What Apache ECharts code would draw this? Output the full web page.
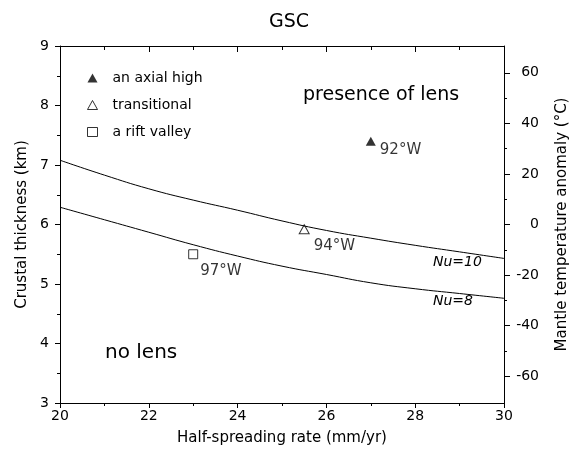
<!DOCTYPE html>
<html>
<head>
<meta charset="utf-8">
<script src="https://cdn.jsdelivr.net/npm/echarts@6/dist/echarts.min.js"></script>
<style>
  html, body { margin: 0; padding: 0; background: #fff; }
  #chart { width: 578px; height: 458px; }
</style>
</head>
<body>
<div id="chart"></div>
<script>
// half-spreading rate (mm/yr)
var rate = [20, 21, 22, 23, 24, 25, 26, 27, 28, 29, 30];
// model curves, crustal thickness (km)
var nu10 = [7.08, 6.83, 6.60, 6.41, 6.24, 6.06, 5.90, 5.77, 5.65, 5.54, 5.43];
var nu8 = [6.29, 6.08, 5.87, 5.66, 5.47, 5.30, 5.16, 5.02, 4.92, 4.84, 4.76];
// observations
var axialHigh = [[27, 7.4]];
var transitional = [[25.5, 5.92]];
var riftValley = [[23, 5.5]];
// right axis ticks
var tempLabels = [-60, -40, -20, 0, 20, 40, 60];
var tempMinor = [-50, -30, -10, 10, 30, 50];

function pairs(xs, ys) {
  return xs.map(function (x, i) { return [x, ys[i]]; });
}

var font = 'DejaVu Sans, sans-serif';
var chart = echarts.init(document.getElementById('chart'));

chart.setOption({
  animation: false,
  title: {
    text: 'GSC', left: 'center', top: 8,
    textStyle: { fontFamily: font, fontSize: 19, fontWeight: 'normal', color: '#000' }
  },
  grid: { left: 60, right: 73, top: 46, bottom: 55 },
  legend: {
    orient: 'vertical', left: 82, top: 66,
    itemWidth: 10, itemHeight: 9, itemGap: 13,
    data: ['an axial high', 'transitional', 'a rift valley'],
    itemStyle: { borderWidth: 1 },
    textStyle: { fontFamily: font, fontSize: 14, color: '#000', padding: [0, 0, 0, 10] }
  },
  xAxis: [{
    type: 'value', min: 20, max: 30, interval: 2,
    name: 'Half-spreading rate (mm/yr)', nameLocation: 'middle', nameGap: 28,
    nameTextStyle: { fontFamily: font, fontSize: 15, color: '#000' },
    axisLine: { onZero: false, lineStyle: { color: '#000' } },
    axisTick: { length: 5, lineStyle: { color: '#000' } },
    minorTick: { show: true, splitNumber: 2, length: 3, lineStyle: { color: '#000' } },
    axisLabel: { fontFamily: font, fontSize: 14, color: '#000', margin: 6 },
    splitLine: { show: false }
  }, {
    // top frame line
    type: 'value', position: 'top', min: 20, max: 30, interval: 2,
    axisLine: { show: true, onZero: false, lineStyle: { color: '#000' } },
    axisTick: { show: false },
    axisLabel: { show: false },
    splitLine: { show: false }
  }, {
    // ticks hanging down from the top frame
    type: 'value', position: 'bottom', offset: -357, min: 20, max: 30, interval: 2,
    axisLine: { show: false, onZero: false },
    axisTick: { show: true, length: 6, lineStyle: { color: '#000' } },
    minorTick: { show: true, splitNumber: 2, length: 4, lineStyle: { color: '#000' } },
    axisLabel: { show: false },
    splitLine: { show: false }
  }],
  yAxis: [{
    type: 'value', min: 3, max: 9, interval: 1,
    name: 'Crustal thickness (km)', nameLocation: 'middle', nameGap: 30,
    nameTextStyle: { fontFamily: font, fontSize: 15, color: '#000' },
    axisLine: { show: true, onZero: false, lineStyle: { color: '#000' } },
    axisTick: { show: true, length: 5, lineStyle: { color: '#000' } },
    minorTick: { show: true, splitNumber: 2, length: 3, lineStyle: { color: '#000' } },
    axisLabel: { fontFamily: font, fontSize: 14, color: '#000', margin: 11 },
    splitLine: { show: false }
  }, {
    type: 'value', position: 'right', min: -70.6, max: 70.6,
    name: 'Mantle temperature anomaly (°C)', nameLocation: 'middle', nameGap: 51,
    nameRotate: 90,
    nameTextStyle: { fontFamily: font, fontSize: 15, color: '#000' },
    axisLine: { show: true, onZero: false, lineStyle: { color: '#000' } },
    axisTick: { show: true, length: 6, customValues: tempLabels, lineStyle: { color: '#000' } },
    axisLabel: { fontFamily: font, fontSize: 14, color: '#000', margin: 35, align: 'right', customValues: tempLabels },
    splitLine: { show: false }
  }, {
    type: 'value', position: 'right', min: -70.6, max: 70.6,
    axisLine: { show: false, onZero: false },
    axisTick: { show: true, length: 3, customValues: tempMinor, lineStyle: { color: '#000' } },
    axisLabel: { show: false, customValues: tempMinor },
    splitLine: { show: false }
  }],
  series: [{
    name: 'Nu=10', type: 'line', smooth: true, symbol: 'none',
    data: pairs(rate, nu10),
    lineStyle: { color: '#000', width: 1 }
  }, {
    name: 'Nu=8', type: 'line', smooth: true, symbol: 'none',
    data: pairs(rate, nu8),
    lineStyle: { color: '#000', width: 1 }
  }, {
    name: 'an axial high', type: 'scatter', symbol: 'triangle', symbolSize: [10, 9],
    data: axialHigh,
    itemStyle: { color: '#000' },
    label: { show: true, formatter: '92°W', position: [14, 6], fontFamily: font, fontSize: 15, color: '#000' }
  }, {
    name: 'transitional', type: 'scatter', symbol: 'triangle', symbolSize: [10, 9],
    data: transitional,
    itemStyle: { color: '#fff', borderColor: '#000', borderWidth: 1 },
    label: { show: true, formatter: '94°W', position: [15, 14], fontFamily: font, fontSize: 15, color: '#000' }
  }, {
    name: 'a rift valley', type: 'scatter', symbol: 'rect', symbolSize: 9,
    data: riftValley,
    itemStyle: { color: '#fff', borderColor: '#000', borderWidth: 1 },
    label: { show: true, formatter: '97°W', position: [12, 14], fontFamily: font, fontSize: 15, color: '#000' }
  }],
  graphic: [{
    type: 'text', left: 303, top: 86,
    style: { text: 'presence of lens', font: '19px ' + font, fill: '#000' }
  }, {
    type: 'text', left: 105, top: 343,
    style: { text: 'no lens', font: '20px ' + font, fill: '#000' }
  }, {
    type: 'text', left: 433, top: 255,
    style: { text: 'Nu=10', font: 'italic 14px ' + font, fill: '#000' }
  }, {
    type: 'text', left: 433, top: 294,
    style: { text: 'Nu=8', font: 'italic 14px ' + font, fill: '#000' }
  }]
});
</script>
</body>
</html>
